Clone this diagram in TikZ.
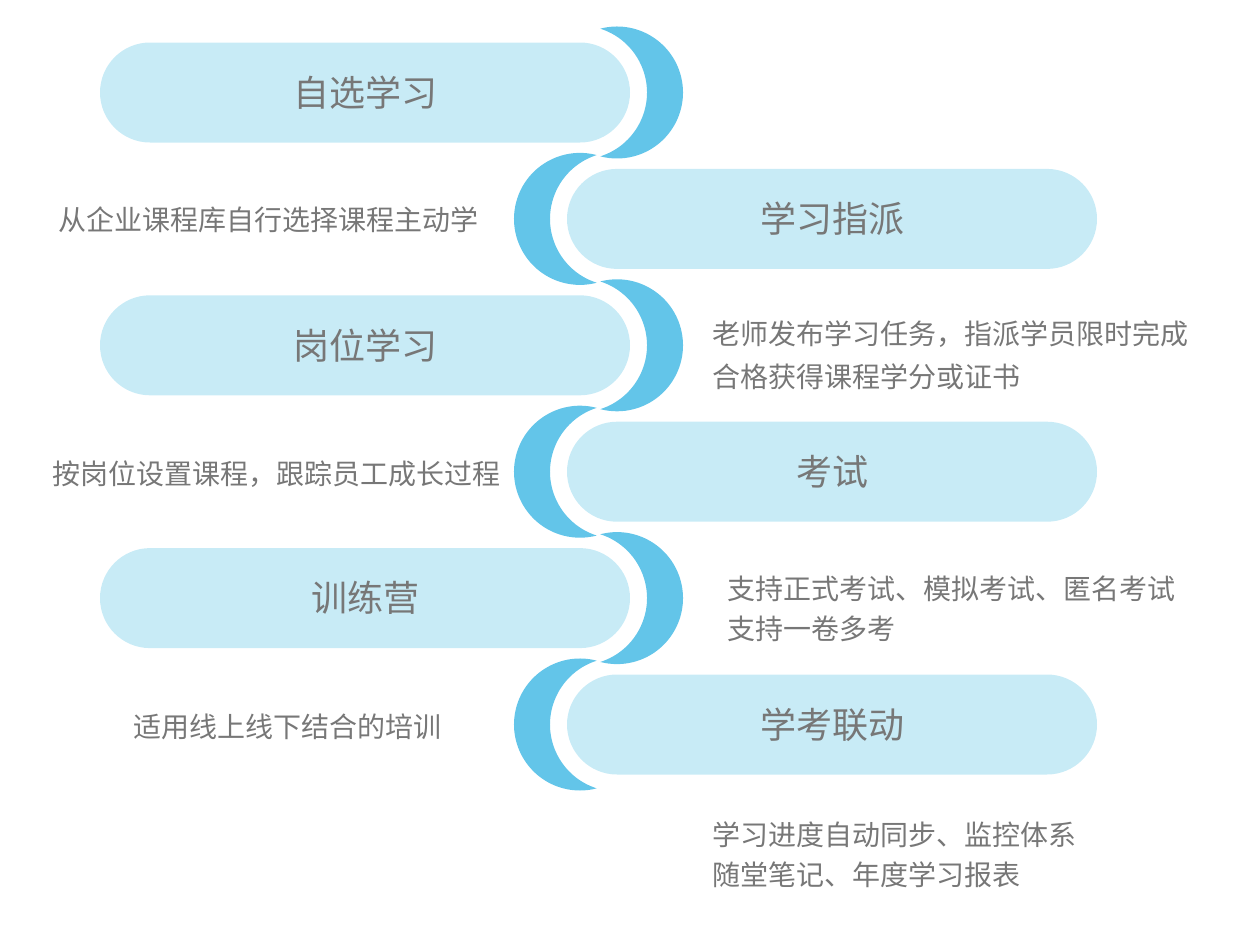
\documentclass[tikz,border=0pt]{standalone}
\usepackage{fontspec}
\setmainfont{Noto Sans CJK SC}
\definecolor{pillblue}{HTML}{C8EBF6}
\definecolor{moonblue}{HTML}{63C5E9}
\definecolor{textgray}{HTML}{777777}
\tikzstyle{fliphorz} = [xscale=-1]
\tikzstyle{pill} = [fill=pillblue,rounded corners=50pt,minimum width=530pt,minimum height=100pt,inner sep=0pt,text=textgray,font=\fontsize{36}{36}\selectfont]
\tikzstyle{note} = [anchor=west,inner sep=0pt,text=textgray,align=left,font=\fontsize{28}{40}\selectfont]
\newcommand{\crescent}[2][]{
 \begin{scope}[shift={(#2)},#1]
  \fill[moonblue] (1.8,-63.85) arc[start angle=-104.66,end angle=104.66,radius=66]
   arc[start angle=72.36,end angle=-72.36,radius=67] -- cycle;
 \end{scope}
}

\begin{document}
\begin{tikzpicture}[x=1pt,y=-1pt]
    \useasboundingbox (0,0) rectangle (1254,935);

    \crescent{598.5,92.5}
    \crescent[fliphorz]{598.5,218.9}
    \crescent{598.5,345.3}
    \crescent[fliphorz]{598.5,471.7}
    \crescent{598.5,598.1}
    \crescent[fliphorz]{598.5,724.5}

    \node[pill] (p1) at (365,92.5)  {自选学习};
    \node[pill] (p2) at (832,218.9) {学习指派};
    \node[pill] (p3) at (365,345.3) {岗位学习};
    \node[pill] (p4) at (832,471.7) {考试};
    \node[pill] (p5) at (365,598.1) {训练营};
    \node[pill] (p6) at (832,724.5) {学考联动};

    % descriptions
    \node[note] (d1) at (58,220)  {从企业课程库自行选择课程主动学};
    \node[note,font=\fontsize{28}{43}\selectfont] (d2) at (712,355) {老师发布学习任务，指派学员限时完成\\合格获得课程学分或证书};
    \node[note] (d3) at (52,474)  {按岗位设置课程，跟踪员工成长过程};
    \node[note] (d4) at (727,608.7) {支持正式考试、模拟考试、匿名考试\\支持一卷多考};
    \node[note] (d5) at (133,727) {适用线上线下结合的培训};
    \node[note] (d6) at (712,855) {学习进度自动同步、监控体系\\随堂笔记、年度学习报表};
\end{tikzpicture}
\end{document}
